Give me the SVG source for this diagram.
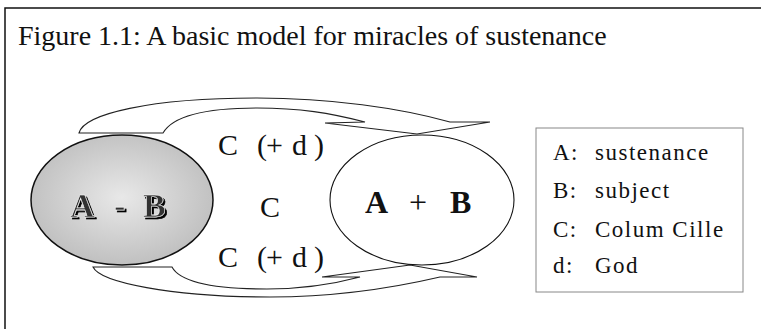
<svg xmlns="http://www.w3.org/2000/svg" width="761" height="329" viewBox="0 0 761 329">
<defs>
<radialGradient id="gray" cx="50%" cy="48%" r="55%">
<stop offset="0" stop-color="#e8e8e8"/>
<stop offset="1" stop-color="#bebebe"/>
</radialGradient>
<filter id="emboss" x="-20%" y="-20%" width="140%" height="140%">
<feOffset in="SourceAlpha" dx="2" dy="2" result="off"/>
<feMerge><feMergeNode in="off"/><feMergeNode in="SourceGraphic"/></feMerge>
</filter>
</defs>
<style>
text{font-family:"Liberation Serif","Times New Roman",serif;fill:#111}
.title{font-size:28px}
.mid{font-size:30px}
.big{font-size:32px;font-weight:bold}
.leg{font-size:23px;letter-spacing:1.5px}
.arrow{fill:none;stroke:#222;stroke-width:1.1}
</style>
<rect width="761" height="329" fill="#fff"/>
<g id="frame" fill="none" stroke="#111" stroke-width="1.5">
<path d="M5,329 V8 H761"/>
</g>
<text class="title" x="18" y="45">Figure 1.1: A basic model for miracles of sustenance</text>
<g id="node-AminusB">
<ellipse cx="122" cy="200" rx="91" ry="65" fill="url(#gray)" stroke="#111" stroke-width="1.5"/>
<text class="big" x="70 114 143" y="217" filter="url(#emboss)" style="font-size:34px;fill:#333;stroke:#f2f2f2;stroke-width:0.6">A-B</text>
</g>
<g id="node-AplusB">
<ellipse cx="422" cy="200" rx="92" ry="65" fill="#fff" stroke="#111" stroke-width="1.1"/>
<text class="big" x="365" y="213">A</text>
<text class="big" x="409" y="213" style="font-weight:normal">+</text>
<text class="big" x="450" y="213">B</text>
</g>
<g id="connectors">
<path id="arrow-top" class="arrow" d="M79,133 C84,114 150,98 257,98 C330,98 400,108 450,122 L490,122 L417,134 L325,123 L365,122 C330,113 300,108 257,108 C210,108 174,114 163,133 Z"/>
<path id="arrow-bottom" class="arrow" d="M93,267 C100,282 170,297 270,297 C350,297 410,284 440,277 L477,277 L410,265 L322,277 L360,277 C330,285 300,289 267,289 C215,289 180,282 172,267 Z"/>
</g>
<g id="labels-C">
<text class="mid" x="218 257 266 292 314" y="155">C(+d)</text>
<text class="mid" x="260" y="217">C</text>
<text class="mid" x="218 257 266 292 314" y="267">C(+d)</text>
</g>
<g id="legend">
<rect x="536" y="128" width="207" height="164" fill="none" stroke="#888" stroke-width="1"/>
<text class="leg" x="553" y="160">A:</text><text class="leg" x="595" y="160">sustenance</text>
<text class="leg" x="553" y="198">B:</text><text class="leg" x="595" y="198">subject</text>
<text class="leg" x="553" y="237">C:</text><text class="leg" x="595" y="237">Colum Cille</text>
<text class="leg" x="553" y="273">d:</text><text class="leg" x="595" y="273">God</text>
</g>
</svg>
